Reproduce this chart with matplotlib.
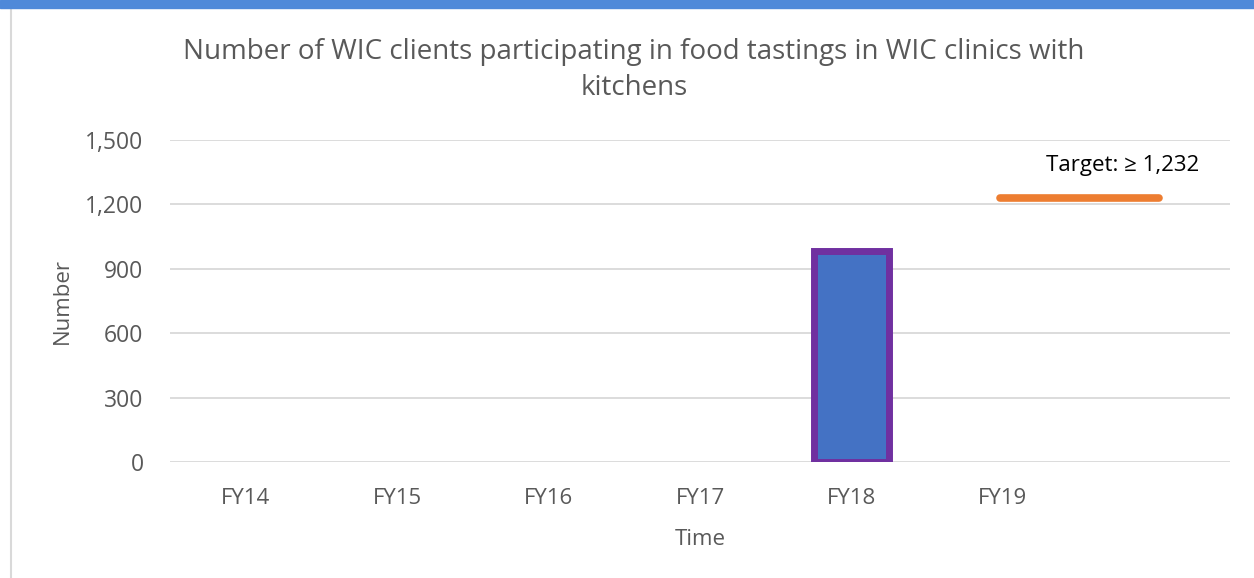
import matplotlib.pyplot as plt
from matplotlib.patches import Rectangle
from matplotlib.lines import Line2D

plt.rcParams["font.family"] = ["Open Sans", "DejaVu Sans"]

# data
years = ["FY14", "FY15", "FY16", "FY17", "FY18", "FY19", ""]
clients = [0, 0, 0, 0, 985, 0, 0]
target = 1232
target_label = "Target: \u2265 1,232"
yticks = [0, 300, 600, 900, 1200, 1500]

# target line drawn from FY19 to just past the empty last slot
target_span = (4.98, 6.03)

fig = plt.figure(figsize=(12.54, 5.78), dpi=100)
ax = fig.add_axes([170 / 1254, 1 - 462 / 578, 1060 / 1254, 322 / 578])

x = list(range(len(years)))
for xi, v in zip(x, clients):
    if v > 0:
        ax.bar(xi, v, width=0.5, color="#4472c4", edgecolor="#7030a0",
               linewidth=5, zorder=3)

ax.hlines(target, target_span[0], target_span[1], color="#ed7d31",
          linewidth=5.5, capstyle="round", zorder=3)
ax.text(6.3, target + 150, target_label, ha="right", va="center",
        fontsize=16, color="black")

ax.set_xlim(-0.5, len(years) - 0.5)
ax.set_ylim(0, 1500)
ax.set_yticks(yticks)
ax.set_yticklabels([f"{t:,}" for t in yticks], fontsize=16.5, color="#595959")
ax.set_xticks(x)
ax.set_xticklabels(years, fontsize=16, color="#595959")
ax.tick_params(length=0)
ax.tick_params(axis="y", pad=19)
ax.tick_params(axis="x", pad=19)
ax.grid(axis="y", color="#d9d9d9", linewidth=1.3, zorder=0)
ax.set_axisbelow(True)
for s in ax.spines.values():
    s.set_visible(False)

ax.set_ylabel("Number", fontsize=16, color="#595959", labelpad=9)
ax.set_xlabel("Time", fontsize=16, color="#595959", labelpad=14)
fig.text(634 / 1254, 1 - 70 / 578,
         "Number of WIC clients participating in food tastings in WIC clinics with\nkitchens",
         ha="center", va="center", fontsize=20, color="#595959", linespacing=1.42)

# frame decorations
fig.patches.append(Rectangle((0, 1 - 8 / 578), 1, 8 / 578, transform=fig.transFigure,
                             color="#4f89d9", zorder=5))
fig.lines.append(Line2D([11 / 1254, 11 / 1254], [0, 1 - 8 / 578], transform=fig.transFigure,
                        color="#d9d9d9", linewidth=1.5))

fig.savefig("out.png", dpi=100)
